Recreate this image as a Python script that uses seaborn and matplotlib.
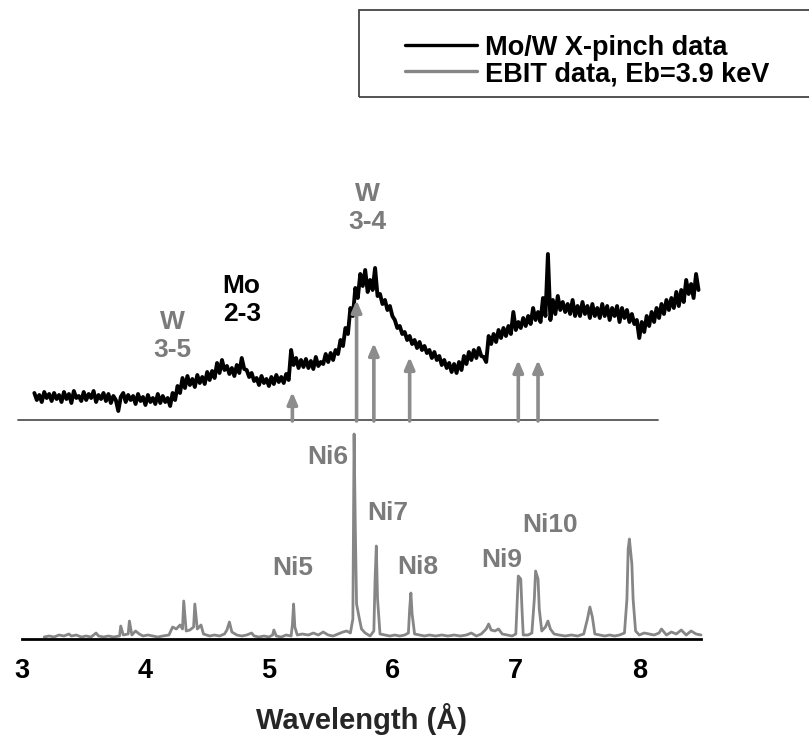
import numpy as np
import pandas as pd
import matplotlib
matplotlib.use('Agg')
import matplotlib.pyplot as plt
import matplotlib.patches as mpatches
from matplotlib.lines import Line2D
import seaborn as sns

# Mo/W X-pinch spectrum, sampled every 0.02 A from 3.10 to 8.48 A (arb. units above its baseline)
xpinch_counts = [
    27, 20, 25, 18, 28, 22, 26, 19, 27, 21,
    25, 18, 28, 21, 26, 17, 29, 22, 24, 19,
    28, 20, 26, 22, 29, 18, 25, 21, 27, 19,
    26, 17, 24, 20, 9, 23, 27, 18, 25, 20,
    24, 16, 26, 19, 23, 15, 25, 18, 22, 16,
    26, 17, 24, 18, 22, 14, 27, 20, 34, 27,
    42, 32, 44, 35, 41, 33, 45, 37, 43, 36,
    48, 40, 49, 42, 57, 47, 60, 50, 54, 46,
    52, 44, 55, 47, 62, 51, 50, 43, 47, 39,
    42, 35, 44, 37, 41, 34, 43, 36, 45, 38,
    43, 37, 46, 40, 70, 55, 62, 52, 60, 53,
    61, 52, 59, 51, 63, 54, 58, 56, 66, 58,
    67, 60, 70, 66, 80, 74, 92, 86, 112, 104,
    132, 122, 146, 134, 150, 128, 140, 130, 152, 124,
    126, 116, 120, 110, 114, 104, 100, 92, 94, 86,
    88, 80, 84, 76, 80, 72, 78, 70, 74, 67,
    70, 62, 68, 60, 64, 55, 60, 52, 57, 48,
    56, 47, 58, 50, 64, 56, 68, 60, 70, 62,
    72, 64, 63, 58, 84, 76, 86, 78, 90, 82,
    92, 84, 94, 86, 108, 90, 98, 92, 102, 94,
    104, 96, 112, 100, 108, 98, 122, 104, 166, 100,
    120, 106, 124, 110, 118, 108, 116, 106, 120, 104,
    114, 104, 118, 106, 114, 102, 116, 104, 112, 102,
    116, 104, 114, 100, 112, 104, 114, 98, 112, 102,
    110, 98, 106, 96, 100, 82, 98, 88, 104, 94,
    108, 98, 112, 102, 116, 106, 120, 110, 122, 112,
    128, 114, 130, 118, 140, 126, 136, 122, 146, 130,
]
xpinch_wl = np.linspace(3.10, 8.48, len(xpinch_counts))

# EBIT spectrum (Eb = 3.9 keV)
ebit_wl = [
    3.18, 3.22, 3.26, 3.30, 3.34, 3.38, 3.40, 3.44, 3.48, 3.52, 3.56, 3.60, 3.62, 3.66, 3.70,
    3.74, 3.79, 3.80, 3.82, 3.86, 3.87, 3.89, 3.92, 3.95, 3.98, 4.02, 4.06, 4.10, 4.14, 4.19,
    4.22, 4.25, 4.28, 4.30, 4.31, 4.33, 4.36, 4.39, 4.40, 4.42, 4.45, 4.47, 4.52, 4.56, 4.60,
    4.64, 4.66, 4.68, 4.70, 4.74, 4.78, 4.82, 4.86, 4.88, 4.92, 4.96, 5.00, 5.03, 5.04, 5.06,
    5.10, 5.14, 5.18, 5.19, 5.20, 5.21, 5.23, 5.27, 5.32, 5.36, 5.40, 5.44, 5.48, 5.52, 5.56,
    5.60, 5.63, 5.66, 5.68, 5.69, 5.70, 5.71, 5.73, 5.75, 5.78, 5.82, 5.85, 5.86, 5.87, 5.88,
    5.90, 5.94, 5.98, 6.02, 6.06, 6.10, 6.13, 6.14, 6.15, 6.16, 6.18, 6.22, 6.26, 6.30, 6.35,
    6.40, 6.45, 6.50, 6.55, 6.60, 6.64, 6.68, 6.72, 6.76, 6.78, 6.80, 6.83, 6.86, 6.89, 6.93,
    6.97, 7.00, 7.01, 7.02, 7.04, 7.05, 7.06, 7.10, 7.13, 7.15, 7.16, 7.18, 7.19, 7.21, 7.24,
    7.26, 7.28, 7.31, 7.35, 7.40, 7.45, 7.50, 7.55, 7.58, 7.60, 7.62, 7.64, 7.68, 7.72, 7.76,
    7.80, 7.84, 7.88, 7.90, 7.91, 7.92, 7.94, 7.95, 7.97, 8.00, 8.04, 8.08, 8.12, 8.16, 8.18,
    8.22, 8.26, 8.30, 8.34, 8.38, 8.42, 8.46, 8.50,
]
ebit_counts = [
    2, 3, 2, 4, 3, 5, 3, 4, 2, 3, 2, 6, 3, 2, 3,
    2, 3, 13, 4, 5, 18, 4, 8, 5, 3, 4, 3, 2, 3, 4,
    12, 10, 14, 10, 38, 8, 9, 12, 35, 10, 14, 5, 3, 4, 3,
    5, 9, 17, 7, 4, 3, 4, 6, 3, 2, 3, 2, 4, 9, 3,
    2, 4, 3, 14, 35, 12, 4, 5, 4, 6, 4, 7, 4, 3, 5,
    7, 8, 6, 20, 205, 110, 35, 22, 10, 6, 3, 8, 60, 93, 40,
    5, 4, 3, 4, 3, 4, 6, 30, 46, 25, 5, 4, 3, 4, 3,
    4, 3, 4, 3, 4, 6, 3, 5, 10, 15, 9, 8, 10, 5, 4,
    3, 5, 35, 63, 60, 30, 4, 4, 6, 40, 68, 60, 30, 8, 12,
    18, 10, 5, 4, 3, 4, 3, 5, 20, 32, 22, 5, 4, 3, 4,
    3, 4, 6, 40, 90, 100, 75, 40, 8, 4, 6, 5, 4, 6, 10,
    4, 7, 5, 9, 4, 8, 5, 4,
]

# EBIT line positions marked on the X-pinch spectrum
arrow_wl = [5.19, 5.71, 5.85, 6.14, 7.02, 7.18]
arrow_len = [28, 120, 77, 63, 60, 60]

xpinch_offset = 219
baseline_range = [2.97, 8.15]

ion_labels = ['Ni5', 'Ni6', 'Ni7', 'Ni8', 'Ni9', 'Ni10']
ion_label_x = [5.195, 5.48, 5.965, 6.21, 6.89, 7.28]
ion_label_y = [71, 182, 126, 72, 79, 114]

series_labels = ['Mo/W X-pinch data', 'EBIT data, Eb=3.9 keV']

sns.set_style('white')
plt.rcParams['font.family'] = ['Liberation Sans', 'DejaVu Sans']
plt.rcParams['font.weight'] = 'bold'

black = '#000000'
gray = '#868686'
label_gray = '#7b7b7b'

fig = plt.figure(figsize=(8.09, 7.40), dpi=100)
ax = fig.add_axes([22 / 809, 101 / 740, 679 / 809, 489 / 740])

xp = pd.DataFrame({'wl': xpinch_wl, 'y': np.array(xpinch_counts) + xpinch_offset})
eb = pd.DataFrame({'wl': ebit_wl, 'y': ebit_counts})

sns.lineplot(data=eb, x='wl', y='y', ax=ax, color=gray, lw=2.0,
             estimator=None, sort=False, clip_on=False)
sns.lineplot(data=xp, x='wl', y='y', ax=ax, color=black, lw=2.8,
             estimator=None, sort=False)

ax.plot(baseline_range, [xpinch_offset, xpinch_offset], color='#555555', lw=1.3, clip_on=False)

for wl, ln in zip(arrow_wl, arrow_len):
    ax.annotate('', xy=(wl, xpinch_offset + ln), xytext=(wl, xpinch_offset - 1),
                arrowprops=dict(arrowstyle='-|>,head_length=0.7,head_width=0.3',
                                color='#8c8c8c', lw=2.6, shrinkA=0, shrinkB=0))

txt = dict(ha='center', va='center', fontsize=19, fontweight='bold', linespacing=1.25)
ax.text(4.215, 303, 'W\n3-5', color=label_gray, **txt)
ax.text(4.78, 339, 'Mo\n2-3', color=black, **txt)
ax.text(5.80, 431, 'W\n3-4', color=label_gray, **txt)
for lab, lx, ly in zip(ion_labels, ion_label_x, ion_label_y):
    ax.text(lx, ly, lab, color=label_gray, **txt)

ax.set_xlim(3, 8.5)
ax.set_ylim(0, 489)
ax.set_xticks([3, 4, 5, 6, 7, 8])
ax.set_xticks([3.5, 4.5, 5.5, 6.5, 7.5, 8.5], minor=True)
ax.set_xticklabels(['3', '4', '5', '6', '7', '8'], fontsize=19.5, fontweight='bold')
ax.tick_params(axis='x', which='major', direction='out', length=7.5, width=2, pad=6, colors=black)
ax.tick_params(axis='x', which='minor', direction='out', length=4, width=2, colors=black)
ax.set_yticks([])
ax.set_ylabel('')
ax.set_xlabel('Wavelength (Å)', fontsize=21, fontweight='bold', labelpad=14)
for s in ['left', 'right', 'top']:
    ax.spines[s].set_visible(False)
ax.spines['bottom'].set_linewidth(2)
ax.spines['bottom'].set_color(black)
ax.patch.set_alpha(0)

# legend box, drawn in figure pixels
W, H = 809, 740
fig.add_artist(mpatches.Rectangle((359 / W, 1 - 97 / H), 460 / W, 87 / H,
                                  transform=fig.transFigure, fill=False,
                                  edgecolor='#444444', lw=1.3))
for (lab, col), ly in zip(zip(series_labels, [black, gray]), [45, 71]):
    fig.add_artist(Line2D([405 / W, 477 / W], [1 - ly / H, 1 - ly / H],
                          transform=fig.transFigure, color=col, lw=2.4))
    fig.text(485 / W, 1 - (ly + 10) / H, lab, fontsize=19.5, fontweight='bold',
             ha='left', va='baseline', color=black)

fig.savefig('out.png', dpi=100)
